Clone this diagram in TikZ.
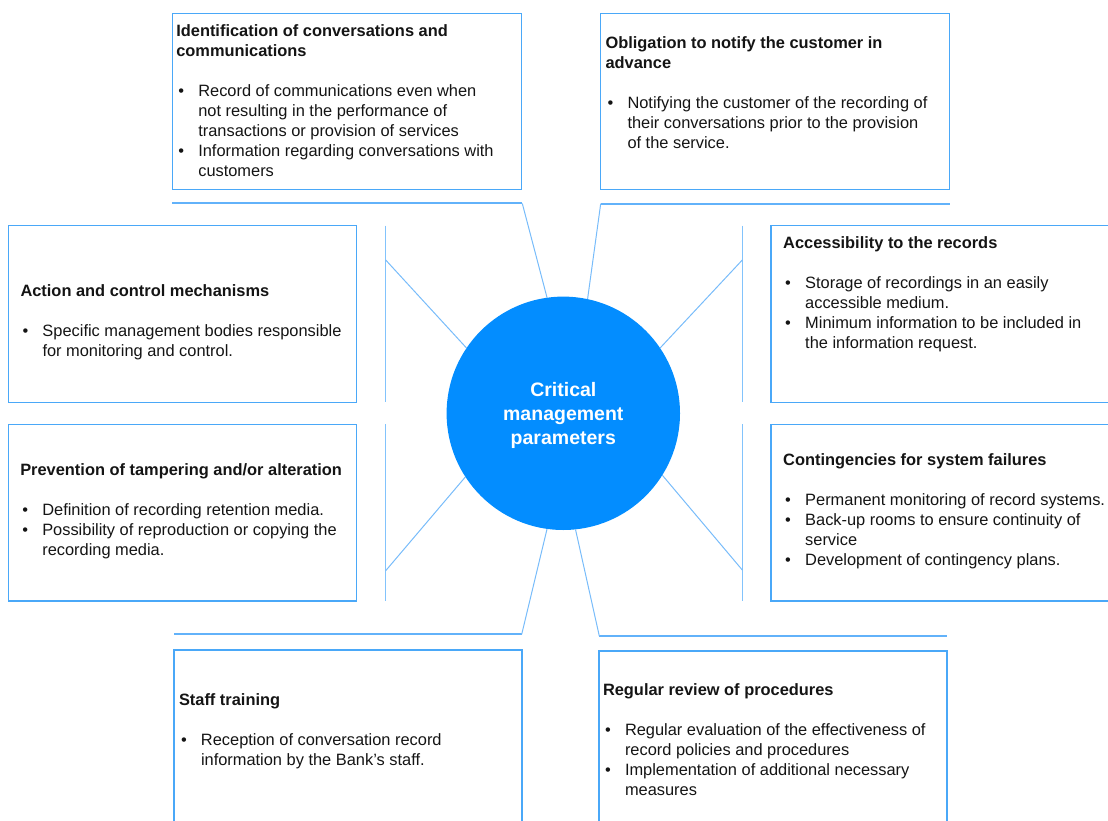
\documentclass[tikz,border=0pt]{standalone}
\usepackage{fontspec}
\setmainfont{Liberation Sans}

\definecolor{hubblue}{RGB}{3,141,255}
\definecolor{boxline}{RGB}{74,168,248}
\definecolor{barline}{RGB}{98,178,250}
\definecolor{vbarline}{RGB}{130,195,252}
\definecolor{spoke}{RGB}{120,188,250}
\definecolor{ink}{RGB}{20,20,20}

% bullet with hanging indent, and continuation lines
\newcommand{\bitem}{\hspace*{2pt}\makebox[20pt][l]{\textbullet}}
\newcommand{\bcont}{\hspace*{22pt}}

\tikzset{
  card/.style={draw=boxline, line width=1.3pt, anchor=north west,
    inner sep=0pt, outer sep=0pt},
  cardtext/.style={anchor=north west, inner sep=0pt, outer sep=0pt,
    text=ink, font=\fontsize{16.4}{20}\selectfont},
  hbar/.style={draw=barline, line width=2pt},
  vbar/.style={draw=vbarline, line width=1.4pt},
  spokeline/.style={draw=spoke, line width=1pt},
  hubnode/.style={circle, fill=hubblue, draw=none, minimum size=233.4pt,
    inner sep=0pt, outer sep=0pt, text=white, align=center,
    font=\fontsize{19.5}{24}\selectfont\bfseries},
}

\begin{document}
\begin{tikzpicture}[x=1pt, y=-1pt]
\useasboundingbox (0,0) rectangle (1108,821);

% central hub
\node[hubnode] (hub) at (563.3,413.3) {};
\node[text=white, align=center, inner sep=0pt,
  font=\fontsize{19.5}{24}\selectfont\bfseries] (hubtxt) at (563.3,415)
  {Critical\\management\\parameters};

% frames
\node[card, minimum width=349pt, minimum height=175.6pt] (ident) at (172.3,13.7) {};
\node[card, minimum width=349pt, minimum height=175.6pt] (oblig) at (600.3,13.7) {};
\node[card, minimum width=348.4pt, minimum height=176.6pt] (action) at (8.3,225.7) {};
\node[card, minimum width=348.4pt, minimum height=176.7pt] (prevent) at (8.3,424.3) {};
\node[card, minimum width=345pt, minimum height=176.6pt] (access) at (771,225.7) {};
\node[card, minimum width=345pt, minimum height=176.7pt] (conting) at (771,424.3) {};
\node[card, minimum width=348pt, minimum height=180pt] (staff) at (174,650) {};
\node[card, minimum width=348pt, minimum height=180pt] (review) at (599,651) {};

% frame texts
\node[cardtext] (identtxt) at (176.3,22.7) {\begin{tabular}{@{}l@{}}
\textbf{Identification of conversations and}\\
\textbf{communications}\\
\\
\bitem Record of communications even when\\
\bcont not resulting in the performance of\\
\bcont transactions or provision of services\\
\bitem Information regarding conversations with\\
\bcont customers
\end{tabular}};

\node[cardtext] (obligtxt) at (605.5,34.5) {\begin{tabular}{@{}l@{}}
\textbf{Obligation to notify the customer in}\\
\textbf{advance}\\
\\
\bitem Notifying the customer of the recording of\\
\bcont their conversations prior to the provision\\
\bcont of the service.
\end{tabular}};

\node[cardtext] (actiontxt) at (20.5,282.5) {\begin{tabular}{@{}l@{}}
\textbf{Action and control mechanisms}\\
\\
\bitem Specific management bodies responsible\\
\bcont for monitoring and control.
\end{tabular}};

\node[cardtext] (preventtxt) at (20.3,461) {\begin{tabular}{@{}l@{}}
\textbf{Prevention of tampering and/or alteration}\\
\\
\bitem Definition of recording retention media.\\
\bitem Possibility of reproduction or copying the\\
\bcont recording media.
\end{tabular}};

\node[cardtext] (accesstxt) at (783.2,234) {\begin{tabular}{@{}l@{}}
\textbf{Accessibility to the records}\\
\\
\bitem Storage of recordings in an easily\\
\bcont accessible medium.\\
\bitem Minimum information to be included in\\
\bcont the information request.
\end{tabular}};

\node[cardtext] (contingtxt) at (783.2,451) {\begin{tabular}{@{}l@{}}
\textbf{Contingencies for system failures}\\
\\
\bitem Permanent monitoring of record systems.\\
\bitem Back-up rooms to ensure continuity of\\
\bcont service\\
\bitem Development of contingency plans.
\end{tabular}};

\node[cardtext] (stafftxt) at (179,691) {\begin{tabular}{@{}l@{}}
\textbf{Staff training}\\
\\
\bitem Reception of conversation record\\
\bcont information by the Bank's staff.
\end{tabular}};

\node[cardtext] (reviewtxt) at (603,681) {\begin{tabular}{@{}l@{}}
\textbf{Regular review of procedures}\\
\\
\bitem Regular evaluation of the effectiveness of\\
\bcont record policies and procedures\\
\bitem Implementation of additional necessary\\
\bcont measures
\end{tabular}};

% connector anchor points
\coordinate (tlA) at (172.3,203.5);
\coordinate (tlB) at (522.3,203.5);
\coordinate (trA) at (600.7,203.7);
\coordinate (trB) at (950,203.7);
\coordinate (luA) at (385.7,225.7);
\coordinate (luB) at (385.7,402.3);
\coordinate (luS) at (385.7,260);
\coordinate (llA) at (385.7,424.3);
\coordinate (llB) at (385.7,601);
\coordinate (llS) at (385.7,570.7);
\coordinate (ruA) at (742.3,225.7);
\coordinate (ruB) at (742.3,402.3);
\coordinate (ruS) at (742.3,260);
\coordinate (rlA) at (742.3,424.3);
\coordinate (rlB) at (742.3,601);
\coordinate (rlS) at (742.3,570);
\coordinate (blA) at (174,634.3);
\coordinate (blB) at (521.7,634.3);
\coordinate (brA) at (599.3,636);
\coordinate (brB) at (947,636);

% bars
\draw[hbar] (tlA) -- (tlB);
\draw[hbar] (trA) -- (trB);
\draw[hbar] (blA) -- (blB);
\draw[hbar] (brA) -- (brB);
\draw[vbar] (luA) -- (luB);
\draw[vbar] (llA) -- (llB);
\draw[vbar] (ruA) -- (ruB);
\draw[vbar] (rlA) -- (rlB);

% spokes to the hub
\draw[spokeline] (tlB) -- (hub.98.5);
\draw[spokeline] (trA) -- (hub.78.7);
\draw[spokeline] (luS) -- (hub.146.5);
\draw[spokeline] (llS) -- (hub.213.9);
\draw[spokeline] (ruS) -- (hub.34.4);
\draw[spokeline] (rlS) -- (hub.328);
\draw[spokeline] (blB) -- (hub.262);
\draw[spokeline] (brA) -- (hub.276.5);
\end{tikzpicture}
\end{document}
